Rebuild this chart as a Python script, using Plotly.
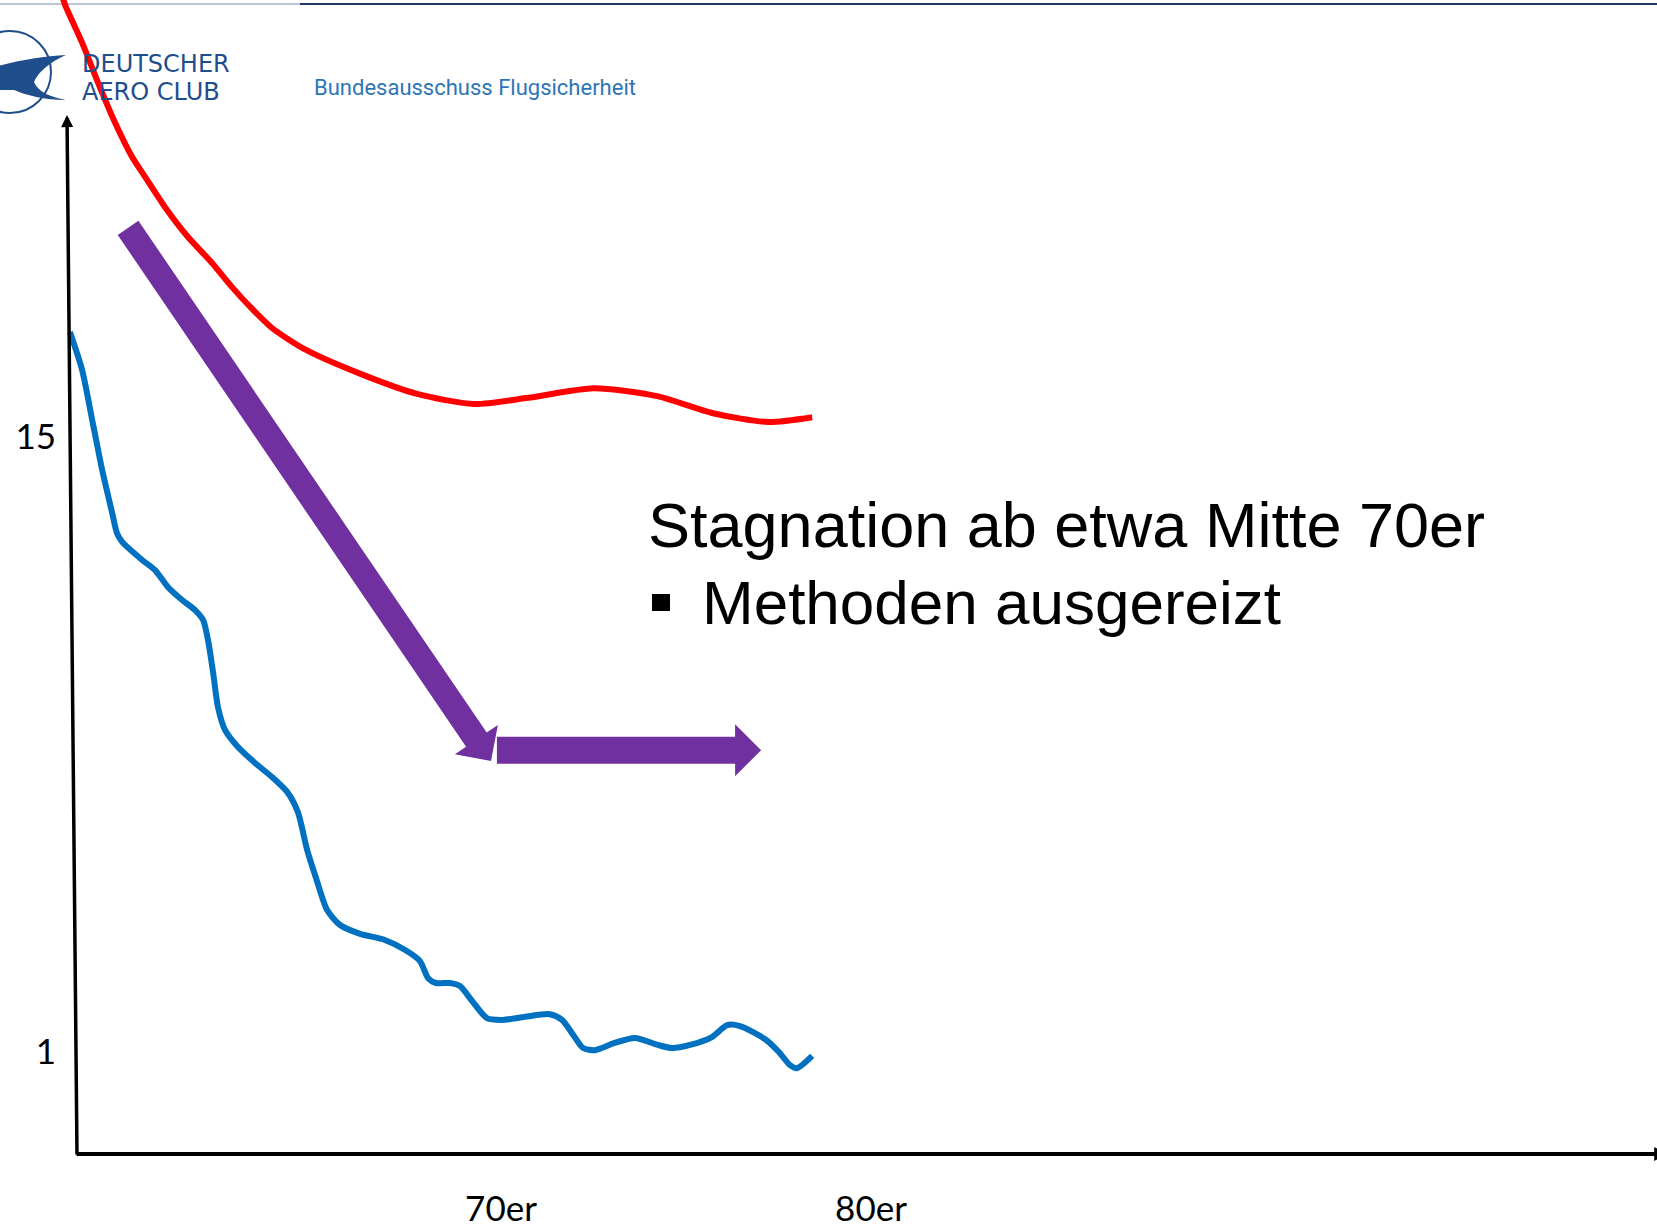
import math
import plotly.graph_objects as go

# ---------------- data (decade years / index values) ----------------
red_years = [1958.15, 1958.22, 1958.68, 1959.11, 1959.57, 1960.03, 1960.38, 1960.92,
             1961.54, 1962.19, 1962.73, 1963.22, 1963.81, 1964.73, 1966.22, 1967.73,
             1969.27, 1970.73, 1972.51, 1974.22, 1975.73, 1977.22, 1978.41]
red_values = [25.0, 24.82, 23.96, 23.05, 22.14, 21.36, 20.91, 20.22,
              19.54, 18.95, 18.40, 17.95, 17.47, 16.97, 16.42, 15.97,
              15.74, 15.88, 16.10, 15.92, 15.53, 15.33, 15.44]

blue_years = [1958.35, 1958.68, 1958.95, 1959.22, 1959.49, 1959.62, 1959.76, 1960.30,
              1960.65, 1961.00, 1961.38, 1961.73, 1961.95, 1962.08, 1962.22, 1962.35,
              1962.54, 1962.89, 1963.35, 1963.81, 1964.22, 1964.51, 1964.76, 1965.00,
              1965.30, 1965.65, 1966.19, 1966.86, 1967.41, 1967.81, 1968.03, 1968.24,
              1968.62, 1968.89, 1969.22, 1969.62, 1970.05, 1970.65, 1971.32, 1971.65,
              1971.95, 1972.22, 1972.54, 1973.05, 1973.62, 1974.24, 1974.62, 1975.11,
              1975.70, 1976.11, 1976.46, 1977.14, 1977.51, 1977.81, 1978.00, 1978.41]
blue_values = [17.38, 16.51, 15.38, 14.24, 13.26, 12.80, 12.60, 12.19,
               11.96, 11.57, 11.28, 11.05, 10.82, 10.37, 9.62, 8.84,
               8.32, 7.93, 7.57, 7.25, 6.91, 6.45, 5.59, 4.95,
               4.22, 3.88, 3.68, 3.54, 3.31, 3.06, 2.67, 2.56,
               2.56, 2.49, 2.15, 1.76, 1.72, 1.79, 1.85, 1.72,
               1.38, 1.08, 1.03, 1.19, 1.31, 1.15, 1.08, 1.15,
               1.33, 1.60, 1.58, 1.28, 0.99, 0.69, 0.62, 0.90]

# trend arrows (year, value)
trend_start = [1959.92, 19.75]
trend_end = [1969.73, 7.61]
plateau_start = [1969.89, 7.86]
plateau_end = [1977.03, 7.86]

x_tick_vals = [1970, 1980]
x_tick_text = ["70er", "80er"]
y_tick_vals = [1, 15]
y_tick_text = ["1", "15"]

headline = "Stagnation ab etwa Mitte 70er"
bullet_text = "Methoden ausgereizt"
logo_line1 = "DEUTSCHER"
logo_line2 = "AERO CLUB"
logo_sub = "Bundesausschuss Flugsicherheit"

W, H = 1657, 1232
X_RANGE = [1956.459, 2001.243]
Y_RANGE = [-3.108, 24.936]
RED = "#FF0000"
BLUE = "#0070C0"
PURPLE = "#7030A0"
NAVY = "#1F4E8C"


def to_px(pt):
    """Map a (year, value) point to pixel space of the overlay axes (same axis scales)."""
    px = (pt[0] - X_RANGE[0]) / (X_RANGE[1] - X_RANGE[0]) * W
    py = (Y_RANGE[1] - pt[1]) / (Y_RANGE[1] - Y_RANGE[0]) * H
    return px, py


def block_arrow(start, end, body_w, head_w, head_l):
    (tx, ty), (ex, ey) = to_px(start), to_px(end)
    L = math.hypot(ex - tx, ey - ty)
    ux, uy = (ex - tx) / L, (ey - ty) / L
    nx, ny = -uy, ux
    bx, by = ex - ux * head_l, ey - uy * head_l
    pts = [(tx + nx * body_w / 2, ty + ny * body_w / 2),
           (bx + nx * body_w / 2, by + ny * body_w / 2),
           (bx + nx * head_w / 2, by + ny * head_w / 2),
           (ex, ey),
           (bx - nx * head_w / 2, by - ny * head_w / 2),
           (bx - nx * body_w / 2, by - ny * body_w / 2),
           (tx - nx * body_w / 2, ty - ny * body_w / 2)]
    return "M " + " L ".join(f"{x:.1f},{y:.1f}" for x, y in pts) + " Z"


fig = go.Figure()
fig.add_trace(go.Scatter(x=red_years, y=red_values, mode="lines",
                         line=dict(color=RED, width=6, shape="spline", smoothing=0.7),
                         hoverinfo="skip"))
fig.add_trace(go.Scatter(x=blue_years, y=blue_values, mode="lines",
                         line=dict(color=BLUE, width=6, shape="spline", smoothing=0.7),
                         hoverinfo="skip"))
# dummy trace to activate overlay pixel axes for decorations
fig.add_trace(go.Scatter(x=[None], y=[None], xaxis="x2", yaxis="y2", hoverinfo="skip"))

annotations = []
# axes with arrowheads (pixel space)
annotations.append(dict(xref="x2", yref="y2", axref="x2", ayref="y2",
                        x=67, y=115, ax=77, ay=1156, text="", showarrow=True,
                        arrowhead=2, arrowwidth=3.5, arrowsize=0.69, arrowcolor="black"))
annotations.append(dict(xref="x2", yref="y2", axref="x2", ayref="y2",
                        x=1668, y=1154, ax=75, ay=1154, text="", showarrow=True,
                        arrowhead=2, arrowwidth=4, arrowsize=0.69, arrowcolor="black"))
# texts
annotations.append(dict(xref="x2", yref="y2", x=646, y=524.5, text=headline, showarrow=False,
                        xanchor="left", yanchor="middle",
                        font=dict(family="Liberation Sans", size=63, color="black")))
annotations.append(dict(xref="x2", yref="y2", x=700, y=602.5, text=bullet_text, showarrow=False,
                        xanchor="left", yanchor="middle",
                        font=dict(family="Liberation Sans", size=62, color="black")))
annotations.append(dict(xref="x2", yref="y2", x=80, y=63.5, text=logo_line1, showarrow=False,
                        xanchor="left", yanchor="middle",
                        font=dict(family="DejaVu Sans", size=24, color=NAVY)))
annotations.append(dict(xref="x2", yref="y2", x=80, y=91.5, text=logo_line2, showarrow=False,
                        xanchor="left", yanchor="middle",
                        font=dict(family="DejaVu Sans", size=24, color=NAVY)))
annotations.append(dict(xref="x2", yref="y2", x=312, y=87, text=logo_sub, showarrow=False,
                        xanchor="left", yanchor="middle",
                        font=dict(family="Roboto", size=22, color="#2E75B6")))

shapes = [
    dict(type="line", xref="x2", yref="y2", x0=0, x1=300, y0=4, y1=4,
         line=dict(color="#7f8aa3", width=1), layer="below"),
    dict(type="line", xref="x2", yref="y2", x0=300, x1=W, y0=4, y1=4,
         line=dict(color="#1F3864", width=2), layer="below"),
    dict(type="circle", xref="x2", yref="y2", x0=-31, x1=51, y0=31, y1=113,
         line=dict(color=NAVY, width=2), layer="below"),
    dict(type="path", xref="x2", yref="y2",
         path="M -2,66 C 20,60 45,56 66,55 C 50,62 38,72 34,82 C 38,92 50,97 66,100 C 45,100 25,95 14,90 L -2,90 Z",
         fillcolor=NAVY, line=dict(width=0), layer="below"),
    dict(type="rect", xref="x2", yref="y2", x0=652, x1=670, y0=594, y1=611,
         fillcolor="black", line=dict(width=0)),
    dict(type="path", xref="x2", yref="y2",
         path=block_arrow(trend_start, trend_end, 25, 52, 26),
         fillcolor=PURPLE, line=dict(width=0)),
    dict(type="path", xref="x2", yref="y2",
         path=block_arrow(plateau_start, plateau_end, 27, 52, 26),
         fillcolor=PURPLE, line=dict(width=0)),
]

tickfont = dict(family="Lato", size=35, color="black")
fig.update_layout(
    width=W, height=H, margin=dict(l=0, r=0, t=0, b=0, pad=0),
    paper_bgcolor="white", plot_bgcolor="white", showlegend=False,
    xaxis=dict(range=X_RANGE, domain=[0, 1], anchor="free", position=0.038,
               showgrid=False, zeroline=False, showline=False, ticks="",
               tickmode="array", tickvals=x_tick_vals, ticktext=x_tick_text,
               tickfont=tickfont, fixedrange=True),
    yaxis=dict(range=Y_RANGE, domain=[0, 1], anchor="free", position=56 / W,
               showgrid=False, zeroline=False, showline=False, ticks="",
               tickmode="array", tickvals=y_tick_vals, ticktext=y_tick_text,
               tickfont=tickfont, fixedrange=True),
    xaxis2=dict(overlaying="x", range=[0, W], visible=False, anchor="y2", fixedrange=True),
    yaxis2=dict(overlaying="y", range=[H, 0], visible=False, anchor="x2", fixedrange=True),
    annotations=annotations, shapes=shapes,
)
fig.write_html("out.html", config={"displayModeBar": False},
               post_script="document.body.style.margin='0';document.body.style.overflow='hidden';")
